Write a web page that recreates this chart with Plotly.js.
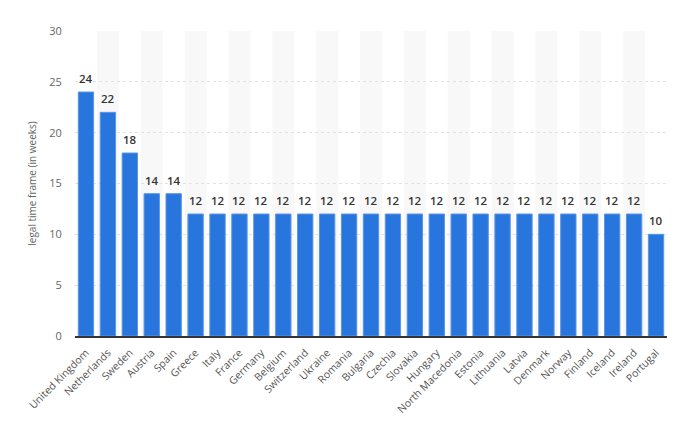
<!DOCTYPE html>
<html><head><meta charset="utf-8">
<script src="https://cdn.plot.ly/plotly-3.0.1.min.js"></script>
<style>html,body{margin:0;padding:0;background:#fff}#c{width:680px;height:428px}</style>
</head><body><div id="c"></div>
<script>
const countries = ["United Kingdom","Netherlands","Sweden","Austria","Spain","Greece","Italy","France","Germany","Belgium","Switzerland","Ukraine","Romania","Bulgaria","Czechia","Slovakia","Hungary","North Macedonia","Estonia","Lithuania","Latvia","Denmark","Norway","Finland","Iceland","Ireland","Portugal"];
const weeks = [24,22,18,14,14,12,12,12,12,12,12,12,12,12,12,12,12,12,12,12,12,12,12,12,12,12,10];
const yTicks = [0,5,10,15,20,25,30];

const shapes = [];
countries.forEach((c,i)=>{
  if(i%2===1){
    shapes.push({type:'rect',xref:'x',yref:'paper',x0:i-0.5,x1:i+0.5,y0:0,y1:1,fillcolor:'#f8f8f8',line:{width:0},layer:'below'});
  }
});
const annotations = weeks.map((v,i)=>({
  x:i, y:v, xref:'x', yref:'y', text:String(v), showarrow:false,
  yanchor:'bottom', yshift:4,
  font:{family:'Open Sans, sans-serif', size:11.5, color:'#333', weight:600}
}));

const trace = {
  type:'bar', x:countries.map((c,i)=>i), y:weeks,
  marker:{color:'#2876dd', line:{color:'#5a96e6', width:1}},
  width:0.7,
  hoverinfo:'none'
};
const layout = {
  width:680, height:428,
  margin:{l:75, r:13, t:31, b:92},
  paper_bgcolor:'#fff', plot_bgcolor:'rgba(0,0,0,0)',
  showlegend:false,
  shapes:shapes, annotations:annotations,
  xaxis:{
    tickmode:'array', tickvals:countries.map((c,i)=>i), ticktext:countries,
    range:[-0.5, countries.length-0.5],
    tickangle:-45, tickfont:{family:'Open Sans, sans-serif', size:10.5, color:'#555'},
    showgrid:false, zeroline:false, showline:true, linecolor:'#333', linewidth:1.5,
    ticks:'outside', ticklen:5, tickcolor:'rgba(0,0,0,0)', fixedrange:true
  },
  yaxis:{
    range:[0,30], tickmode:'array', tickvals:yTicks,
    tickfont:{family:'Open Sans, sans-serif', size:11, color:'#666'},
    showgrid:true, gridcolor:'#e2e2e2', griddash:'dot', gridwidth:1,
    zeroline:false, showline:false, ticks:'outside', ticklen:10, tickcolor:'rgba(0,0,0,0)',
    title:{text:'legal time frame (in weeks)', font:{family:'Open Sans, sans-serif', size:10, color:'#666'}, standoff:10}
  },
  font:{family:'Open Sans, sans-serif'}
};
Plotly.newPlot('c',[trace],layout,{displayModeBar:false,staticPlot:true});
</script></body></html>
